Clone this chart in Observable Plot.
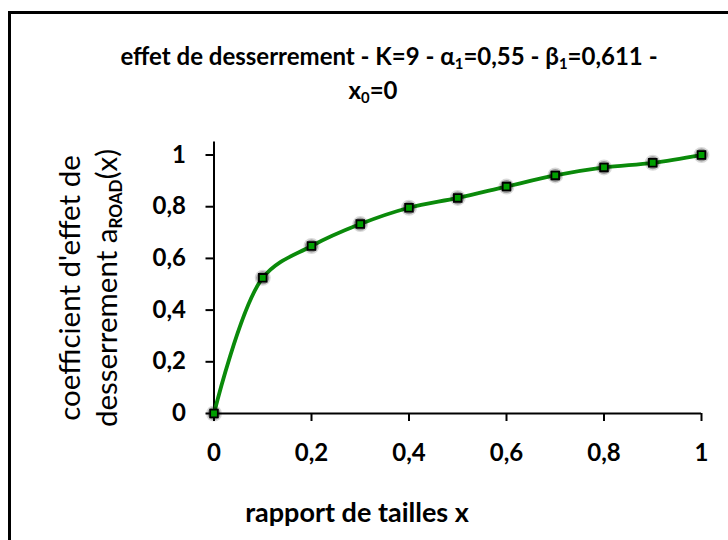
<!DOCTYPE html>
<html>
<head>
<meta charset="utf-8">
<script src="https://cdn.jsdelivr.net/npm/d3@7"></script>
<script src="https://cdn.jsdelivr.net/npm/@observablehq/plot@0.6"></script>
<style>
  html, body { margin: 0; padding: 0; background: #fff; overflow: hidden; }
  #wrap { position: relative; width: 728px; height: 540px; overflow: hidden; background: #fff; font-family: "Lato", sans-serif; color: #000; }
  #frame { position: absolute; left: 8px; top: 11px; width: 780px; height: 600px; border: 3px solid #000; box-sizing: border-box; }
  #chart { position: absolute; left: 0; top: 0; }
  .title { position: absolute; font-weight: bold; font-size: 24px; line-height: 1; white-space: nowrap; transform: translate(-50%, -50%); }
  .title sub { font-size: 0.62em; vertical-align: -0.3em; line-height: 0; }
  #ylab { position: absolute; left: 50px; top: 438px; width: 300px; transform-origin: 0 0; transform: rotate(-90deg); font-size: 29.5px; line-height: 37px; white-space: nowrap; text-align: center; }
  #ylab sub { font-size: 0.58em; font-weight: bold; vertical-align: -0.3em; line-height: 0; }
  #xlab { position: absolute; left: 357px; top: 511px; transform: translate(-50%, -50%); font-weight: bold; font-size: 27px; line-height: 1; white-space: nowrap; }
  svg g[aria-label$="tick label"] { font-weight: bold; }
</style>
</head>
<body>
<div id="wrap">
  <div id="chart"></div>
  <div id="frame"></div>
  <div class="title" style="left:389px; top:56px;">effet de desserrement - K=9 - α<sub>1</sub>=0,55 - β<sub>1</sub>=0,611 -</div>
  <div class="title" style="left:373px; top:90px;">x<sub>0</sub>=0</div>
  <div id="ylab">coefficient d'effet de<br>desserrement a<sub>ROAD</sub>(x)</div>
  <div id="xlab">rapport de tailles x</div>
</div>
<script>
const xValues = [0, 0.1, 0.2, 0.3, 0.4, 0.5, 0.6, 0.7, 0.8, 0.9, 1];
const yValues = [0, 0.525, 0.648, 0.733, 0.796, 0.834, 0.878, 0.921, 0.952, 0.970, 1.0];
const xTicks = [0, 0.2, 0.4, 0.6, 0.8, 1];
const yTicks = [0, 0.2, 0.4, 0.6, 0.8, 1];

const data = xValues.map((x, i) => ({x, y: yValues[i]}));
const fmt = d => String(d).replace(".", ",");

const chart = Plot.plot({
  width: 728,
  height: 540,
  marginLeft: 213.5,
  marginRight: 27,
  marginTop: 141.6,
  marginBottom: 127,
  x: {domain: [0, 1]},
  y: {domain: [0, 1.05]},
  style: {fontFamily: "Lato, sans-serif", background: "transparent", color: "#000"},
  marks: [
    Plot.axisX({ticks: xTicks, tickFormat: fmt, tickSize: 8, tickPadding: 22, fontSize: 24, fontWeight: "bold", strokeWidth: 2, label: null}),
    Plot.axisY({ticks: yTicks, tickFormat: fmt, tickSize: 8, tickPadding: 20, fontSize: 24, fontWeight: "bold", strokeWidth: 2, label: null}),
    Plot.ruleX([0], {stroke: "#000", strokeWidth: 2}),
    Plot.ruleY([0], {stroke: "#000", strokeWidth: 2}),
    Plot.line(data, {x: "x", y: "y", curve: "catmull-rom", stroke: "#0a8a0a", strokeWidth: 3.8}),
    Plot.dot(data, {x: "x", y: "y", r: 8, fill: "#000", fillOpacity: 0.15}),
    Plot.dot(data, {x: "x", y: "y", r: 6.5, fill: "#000", fillOpacity: 0.3}),
    Plot.dot(data, {x: "x", y: "y", symbol: "square", r: 4.3, fill: "#00a000", stroke: "#000", strokeWidth: 1.8})
  ]
});
document.getElementById("chart").appendChild(chart);
</script>
</body>
</html>
